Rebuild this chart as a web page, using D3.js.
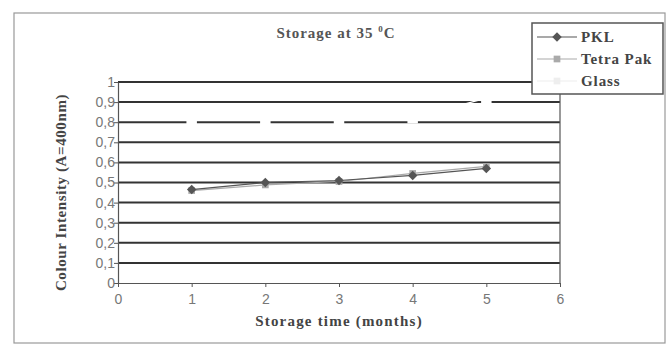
<!DOCTYPE html>
<html>
<head>
<meta charset="utf-8">
<script src="https://cdn.jsdelivr.net/npm/d3@7"></script>
<style>
body { margin:0; background:#fff; }
text { font-family: "Liberation Serif", "DejaVu Serif", serif; }
.tick text { font-family: "Liberation Sans", Arial, sans-serif; }
</style>
</head>
<body>
<div id="chart"></div>
<script>
(function(){
var width = 670,
	height = 349,
	margin = {top:82,bottom:66,left:118,right:110};

var months = [1,2,3,4,5];
var pkl = [0.465,0.50,0.51,0.535,0.57];
var tetra = [0.46,0.488,0.505,0.545,0.58];
var glass = [0.81,0.81,0.81,0.82,0.92];
var yTicks = [0,0.1,0.2,0.3,0.4,0.5,0.6,0.7,0.8,0.9,1];
var xTicks = [0,1,2,3,4,5,6];
var names = ["PKL","Tetra Pak","Glass"];

var X = d3.scaleLinear().domain([0,6]).range([margin.left,width-margin.right]);
var Y = d3.scaleLinear().domain([0,1]).range([height-margin.bottom,margin.top]);

var svg = d3.select("#chart").append("svg")
	.attr("width",width)
	.attr("height",height);

// outer frame
svg.append("rect").attr("x",14).attr("y",13).attr("width",651).attr("height",330)
	.attr("fill","none").attr("stroke","#999").attr("stroke-width",1.2);

// gridlines
svg.append("g").selectAll("line").data(yTicks.slice(1)).enter().append("line")
	.attr("x1",X(0)).attr("x2",X(6))
	.attr("y1",function(d){return Y(d)}).attr("y2",function(d){return Y(d)})
	.attr("stroke","#333").attr("stroke-width",2);

// right border of plot
svg.append("line").attr("x1",X(6)).attr("x2",X(6)).attr("y1",Y(1)).attr("y2",Y(0))
	.attr("stroke","#555").attr("stroke-width",1.2);

var fmt = function(d){ return d === 0 || d === 1 ? String(d) : d3.format(".1f")(d).replace(".",","); };

var yAxis = svg.append("g").attr("transform","translate("+X(0)+",0)")
	.call(d3.axisLeft(Y).tickValues(yTicks).tickFormat(fmt).tickSize(4).tickSizeOuter(0));
var xAxis = svg.append("g").attr("transform","translate(0,"+Y(0)+")")
	.call(d3.axisBottom(X).tickValues(xTicks).tickFormat(d3.format("d")).tickSize(4).tickSizeOuter(0));

[yAxis,xAxis].forEach(function(a){
	a.select(".domain").attr("stroke","#555").attr("stroke-width",1.2);
	a.selectAll(".tick line").attr("stroke","#555");
	a.selectAll(".tick text").attr("fill","#777").style("font-size","14px");
});
xAxis.selectAll(".tick text").attr("dy","1.0em");
yAxis.selectAll(".tick text").attr("x",-3);

var series = [
	{name:"PKL", values:pkl, color:"#555", sym:d3.symbolSquare, rot:45, size:45},
	{name:"Tetra Pak", values:tetra, color:"#aaa", sym:d3.symbolSquare, rot:0, size:45},
	{name:"Glass", values:glass, color:"#fff", sym:d3.symbolSquare, rot:0, size:110}
];

var line = d3.line().x(function(d){return X(d[0])}).y(function(d){return Y(d[1])});

// glass first, then tetra, pkl on top
[series[2],series[1],series[0]].forEach(function(s){
	var pts = months.map(function(m,i){return [m,s.values[i]]});
	svg.append("path").datum(pts).attr("d",line)
		.attr("fill","none").attr("stroke",s.color).attr("stroke-width",1.2);
	svg.append("g").selectAll("path").data(pts).enter().append("path")
		.attr("d",d3.symbol().type(s.sym).size(s.size))
		.attr("transform",function(d){return "translate("+X(d[0])+","+Y(d[1])+") rotate("+s.rot+")"})
		.attr("fill",s.color);
});

// legend
var lg = svg.append("g").attr("transform","translate(532,23)");
lg.append("rect").attr("width",131).attr("height",71)
	.attr("fill","#fff").attr("stroke","#555").attr("stroke-width",1.5);
series.forEach(function(s,i){
	var y = 14 + i*22;
	var c = s.name == "Glass" ? "#eee" : s.color;
	lg.append("line").attr("x1",5).attr("x2",45).attr("y1",y).attr("y2",y)
		.attr("stroke",c).attr("stroke-width",1.2);
	lg.append("path").attr("d",d3.symbol().type(s.sym).size(s.name == "Glass" ? 45 : s.size))
		.attr("transform","translate(25,"+y+") rotate("+s.rot+")").attr("fill",c);
	lg.append("text").attr("x",49).attr("y",y).attr("dy","0.35em")
		.attr("fill","#444").style("font-size","15px").style("font-weight","bold")
		.style("letter-spacing","0.9px")
		.text(s.name);
});

// title
var t = svg.append("text").attr("x",336).attr("y",38).attr("text-anchor","middle")
	.attr("fill","#555").style("font-size","15px").style("font-weight","bold")
	.style("letter-spacing","1px");
t.append("tspan").text("Storage at 35 ");
t.append("tspan").attr("dy","-6").style("font-size","9px").text("0");
t.append("tspan").attr("dy","6").text("C");

// axis titles
svg.append("text").attr("x",X(3)).attr("y",326).attr("text-anchor","middle")
	.attr("fill","#444").style("font-size","15px").style("font-weight","bold")
	.style("letter-spacing","1.2px")
	.text("Storage time (months)");
svg.append("text").attr("transform","translate(66,"+(Y(0.5)+10)+") rotate(-90)")
	.attr("text-anchor","middle").attr("fill","#444")
	.style("font-size","15px").style("font-weight","bold")
	.style("letter-spacing","0.6px")
	.text("Colour Intensity (A=400nm)");

})()
</script>
</body>
</html>
